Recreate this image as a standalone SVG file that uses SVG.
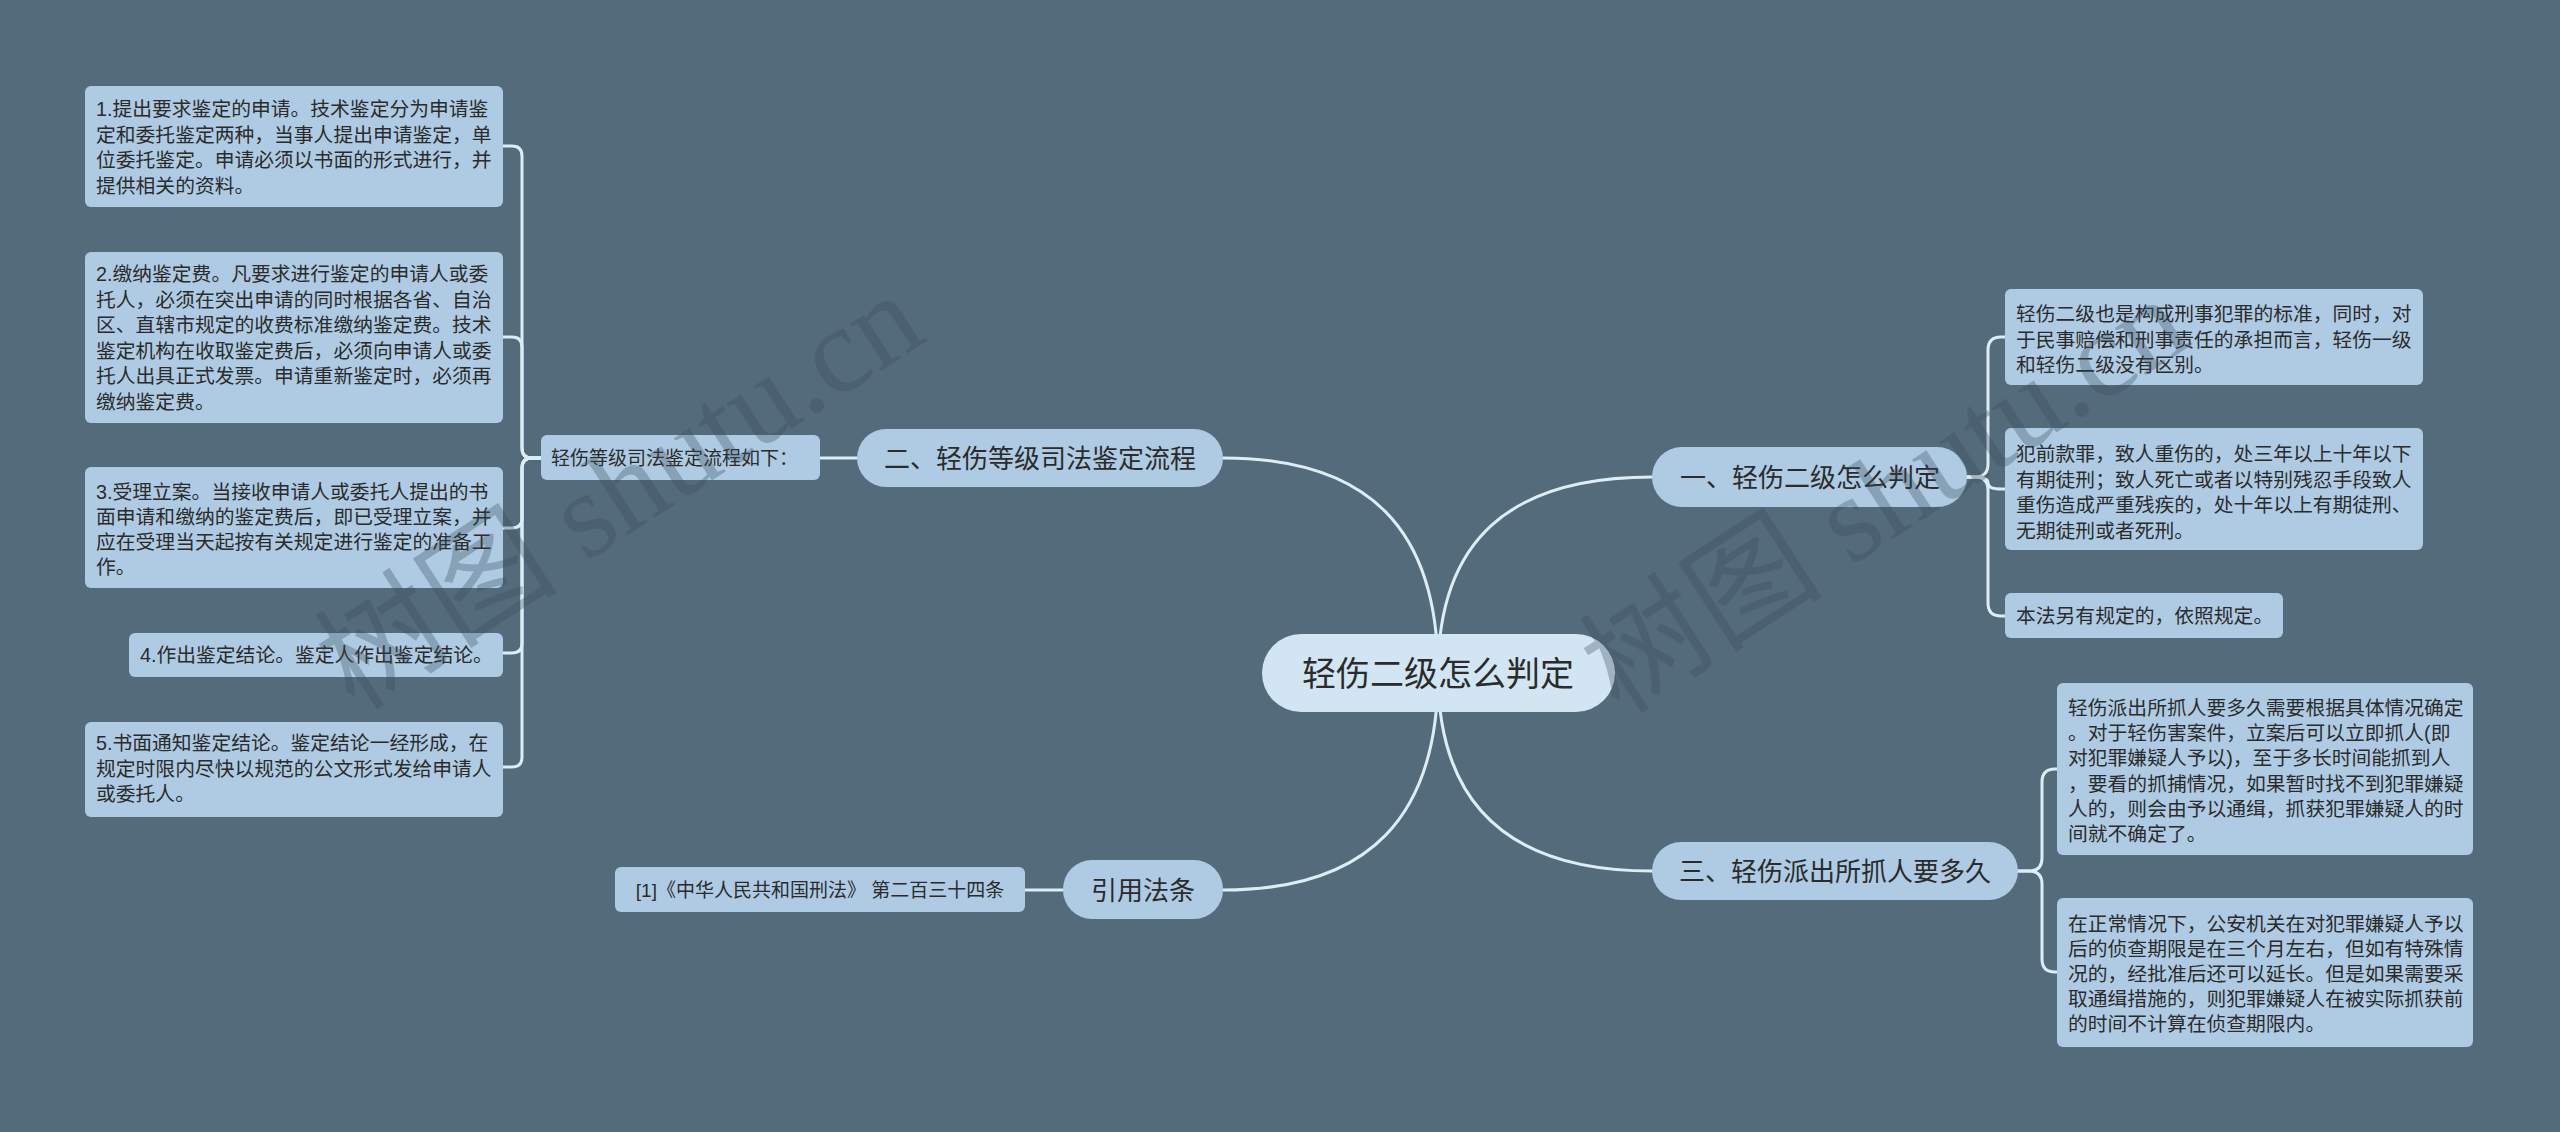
<svg xmlns="http://www.w3.org/2000/svg" width="2560" height="1132" viewBox="0 0 2560 1132">
<style>
.bg{fill:#546b7b}
.box{fill:#aecbe3}
.root{fill:#d1e6f2}
.t{font-family:"Liberation Sans","Noto Sans CJK SC",sans-serif;fill:#2b2b2b}
.s{font-size:19.8px}
.m{font-size:26px;text-anchor:middle}
.c{font-size:34px;text-anchor:middle}
.ln{fill:none;stroke:#dcedf6;stroke-width:3;stroke-linecap:round}
.wm{font-family:"Liberation Serif","Noto Sans CJK SC",serif;font-size:122px;fill:#3a4c5a;fill-opacity:0.33}
</style>
<rect class="bg" x="0" y="0" width="2560" height="1132"/>

<g id="connectors">
<path class="ln" d="M1438,673 C1438,530 1370,458 1223,458"/>
<path class="ln" d="M1438,673 C1438,816 1370,890 1223,890"/>
<path class="ln" d="M1438,673 C1438,540 1510,477 1652,477"/>
<path class="ln" d="M1438,673 C1438,806 1510,871 1652,871"/>
<path class="ln" d="M857,458 L820,458"/>
<path class="ln" d="M1063,890 L1025,890"/>
<path class="ln" d="M541,458 L532,458 Q522,458 522,448 L522,156 Q522,146 512,146 L503,146"/>
<path class="ln" d="M541,458 L532,458 Q522,458 522,448 L522,347 Q522,337 512,337 L503,337"/>
<path class="ln" d="M541,458 L532,458 Q522,458 522,468 L522,518 Q522,528 512,528 L503,528"/>
<path class="ln" d="M541,458 L532,458 Q522,458 522,468 L522,643 Q522,653 512,653 L503,653"/>
<path class="ln" d="M541,458 L532,458 Q522,458 522,468 L522,757 Q522,767 512,767 L503,767"/>
<path class="ln" d="M1967,477 L1975,477 Q1988,477 1988,464 L1988,350 Q1988,337 2001,337 L2005,337"/>
<path class="ln" d="M1967,477 L1975,477 Q1988,477 1988,483 Q1988,489 2001,489 L2005,489"/>
<path class="ln" d="M1967,477 L1975,477 Q1988,477 1988,490 L1988,603 Q1988,616 2001,616 L2005,616"/>
<path class="ln" d="M2018,871 L2029,871 Q2042,871 2042,858 L2042,782 Q2042,769 2055,769 L2057,769"/>
<path class="ln" d="M2018,871 L2029,871 Q2042,871 2042,884 L2042,959 Q2042,972 2055,972 L2057,972"/>
</g>

<g id="root">
<rect class="root" x="1262" y="634" width="353" height="78" rx="39"/>
<text class="t c" x="1438" y="686">轻伤二级怎么判定</text>
</g>

<g id="b2">
<rect class="box" x="857" y="429" width="366" height="58" rx="29"/>
<text class="t m" x="1040" y="468">二、轻伤等级司法鉴定流程</text>
</g>
<g id="b2-intro">
<rect class="box" x="541" y="435" width="279" height="45" rx="6"/>
<text class="t" style="font-size:19px" x="551" y="465">轻伤等级司法鉴定流程如下：</text>
</g>
<g id="b2-1">
<rect class="box" x="85" y="86" width="418" height="121" rx="6"/>
<text class="t s" x="96" y="116">1.提出要求鉴定的申请。技术鉴定分为申请鉴</text>
<text class="t s" x="96" y="142">定和委托鉴定两种，当事人提出申请鉴定，单</text>
<text class="t s" x="96" y="167">位委托鉴定。申请必须以书面的形式进行，并</text>
<text class="t s" x="96" y="193">提供相关的资料。</text>
</g>
<g id="b2-2">
<rect class="box" x="85" y="252" width="418" height="171" rx="6"/>
<text class="t s" x="96" y="281">2.缴纳鉴定费。凡要求进行鉴定的申请人或委</text>
<text class="t s" x="96" y="307">托人，必须在突出申请的同时根据各省、自治</text>
<text class="t s" x="96" y="332">区、直辖市规定的收费标准缴纳鉴定费。技术</text>
<text class="t s" x="96" y="358">鉴定机构在收取鉴定费后，必须向申请人或委</text>
<text class="t s" x="96" y="383">托人出具正式发票。申请重新鉴定时，必须再</text>
<text class="t s" x="96" y="409">缴纳鉴定费。</text>
</g>
<g id="b2-3">
<rect class="box" x="85" y="467" width="418" height="121" rx="6"/>
<text class="t s" x="96" y="499">3.受理立案。当接收申请人或委托人提出的书</text>
<text class="t s" x="96" y="524">面申请和缴纳的鉴定费后，即已受理立案，并</text>
<text class="t s" x="96" y="549">应在受理当天起按有关规定进行鉴定的准备工</text>
<text class="t s" x="96" y="574">作。</text>
</g>
<g id="b2-4">
<rect class="box" x="129" y="633" width="374" height="44" rx="6"/>
<text class="t s" x="140" y="662">4.作出鉴定结论。鉴定人作出鉴定结论。</text>
</g>
<g id="b2-5">
<rect class="box" x="85" y="722" width="418" height="95" rx="6"/>
<text class="t s" x="96" y="750">5.书面通知鉴定结论。鉴定结论一经形成，在</text>
<text class="t s" x="96" y="776">规定时限内尽快以规范的公文形式发给申请人</text>
<text class="t s" x="96" y="801">或委托人。</text>
</g>

<g id="b4">
<rect class="box" x="1063" y="860" width="160" height="59" rx="29"/>
<text class="t m" x="1143" y="900">引用法条</text>
</g>
<g id="b4-1">
<rect class="box" x="615" y="867" width="410" height="45" rx="6"/>
<text class="t" style="font-size:19px;text-anchor:middle" x="820" y="897">[1]《中华人民共和国刑法》 第二百三十四条</text>
</g>

<g id="b1">
<rect class="box" x="1652" y="447" width="315" height="60" rx="30"/>
<text class="t m" x="1810" y="487">一、轻伤二级怎么判定</text>
</g>
<g id="b1-1">
<rect class="box" x="2005" y="289" width="418" height="96" rx="6"/>
<text class="t s" x="2016" y="321">轻伤二级也是构成刑事犯罪的标准，同时，对</text>
<text class="t s" x="2016" y="347">于民事赔偿和刑事责任的承担而言，轻伤一级</text>
<text class="t s" x="2016" y="372">和轻伤二级没有区别。</text>
</g>
<g id="b1-2">
<rect class="box" x="2005" y="428" width="418" height="122" rx="6"/>
<text class="t s" x="2016" y="461">犯前款罪，致人重伤的，处三年以上十年以下</text>
<text class="t s" x="2016" y="487">有期徒刑；致人死亡或者以特别残忍手段致人</text>
<text class="t s" x="2016" y="512">重伤造成严重残疾的，处十年以上有期徒刑、</text>
<text class="t s" x="2016" y="538">无期徒刑或者死刑。</text>
</g>
<g id="b1-3">
<rect class="box" x="2005" y="593" width="278" height="45" rx="6"/>
<text class="t s" x="2016" y="623">本法另有规定的，依照规定。</text>
</g>

<g id="b3">
<rect class="box" x="1652" y="842" width="366" height="58" rx="29"/>
<text class="t m" x="1835" y="881">三、轻伤派出所抓人要多久</text>
</g>
<g id="b3-1">
<rect class="box" x="2057" y="683" width="416" height="172" rx="6"/>
<text class="t s" x="2068" y="715">轻伤派出所抓人要多久需要根据具体情况确定</text>
<text class="t s" x="2068" y="740">。对于轻伤害案件，立案后可以立即抓人(即</text>
<text class="t s" x="2068" y="765">对犯罪嫌疑人予以)，至于多长时间能抓到人</text>
<text class="t s" x="2068" y="791">，要看的抓捕情况，如果暂时找不到犯罪嫌疑</text>
<text class="t s" x="2068" y="816">人的，则会由予以通缉，抓获犯罪嫌疑人的时</text>
<text class="t s" x="2068" y="841">间就不确定了。</text>
</g>
<g id="b3-2">
<rect class="box" x="2057" y="898" width="416" height="149" rx="6"/>
<text class="t s" x="2068" y="931">在正常情况下，公安机关在对犯罪嫌疑人予以</text>
<text class="t s" x="2068" y="956">后的侦查期限是在三个月左右，但如有特殊情</text>
<text class="t s" x="2068" y="981">况的，经批准后还可以延长。但是如果需要采</text>
<text class="t s" x="2068" y="1006">取通缉措施的，则犯罪嫌疑人在被实际抓获前</text>
<text class="t s" x="2068" y="1031">的时间不计算在侦查期限内。</text>
</g>

<g id="watermarks">
<text class="wm" transform="translate(355,712) rotate(-33)">树图 shutu.cn</text>
<text class="wm" transform="translate(1620,716) rotate(-33)">树图 shutu.cn</text>
</g>
</svg>
